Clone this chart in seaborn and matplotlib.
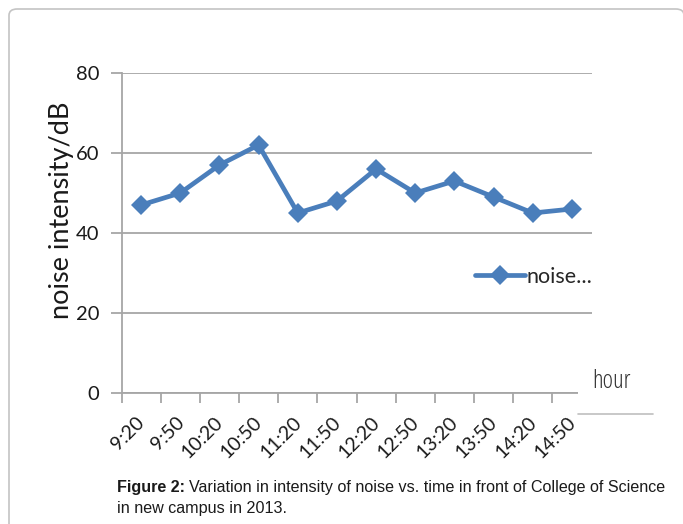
import matplotlib
matplotlib.use("Agg")
import matplotlib.pyplot as plt
import seaborn as sns
import pandas as pd
from matplotlib.patches import FancyBboxPatch, Rectangle
from matplotlib.lines import Line2D

times = ["9:20", "9:50", "10:20", "10:50", "11:20", "11:50",
         "12:20", "12:50", "13:20", "13:50", "14:20", "14:50"]
noise = [47, 50, 57, 62, 45, 48, 56, 50, 53, 49, 45, 46]
y_ticks = [0, 20, 40, 60, 80]
series_name = "noise..."
y_label = "noise intensity/dB"
x_label = "hour"

sns.set_style("white")
plt.rcParams["font.family"] = ["Lato", "DejaVu Sans"]

W, H = 683, 524
fig = plt.figure(figsize=(W / 100, H / 100), dpi=100)

def fx(px):
    return px / W

def fy(py):
    return 1 - py / H

# outer rounded frame
frame = FancyBboxPatch((fx(9), fy(560)), fx(684) - fx(9), fy(9) - fy(560),
                       boxstyle="round,pad=0,rounding_size=0.012",
                       transform=fig.transFigure, fill=False,
                       edgecolor="#c4c4c4", linewidth=1.2, zorder=0)
fig.patches.append(frame)

ax = fig.add_axes([fx(121.5), fy(393), fx(591.5) - fx(121.5), fy(73) - fy(393)])

df = pd.DataFrame({"time": times, "noise": noise})
color = "#4a7ebb"
sns.lineplot(data=df, x="time", y="noise", ax=ax, color=color, linewidth=3.4,
             marker="D", markersize=10.5, markeredgewidth=0, sort=False,
             label=series_name, legend=False)

ax.set_xlim(-0.5, len(times) - 0.5)
ax.set_ylim(0, 80)
ax.set_yticks(y_ticks)
ax.set_yticklabels([str(v) for v in y_ticks], fontsize=14.5, color="#1a1a1a")
ax.yaxis.grid(True, color="#a6a6a6", linewidth=1.3)
ax.set_axisbelow(True)

for s in ["top", "right"]:
    ax.spines[s].set_visible(False)
ax.spines["left"].set_color("#a6a6a6")
ax.spines["left"].set_linewidth(1.3)
ax.spines["bottom"].set_color("#a6a6a6")
ax.spines["bottom"].set_linewidth(1.3)

# ticks: marks at category boundaries, labels slightly left of the category centre
label_shift = 0.13
ax.set_xticks([i - 0.5 for i in range(len(times))], minor=False)
ax.set_xticklabels([])
ax.set_xticks([i - label_shift for i in range(len(times))], minor=True)
ax.set_xticklabels(times, minor=True, rotation=45, ha="right",
                   rotation_mode="anchor", fontsize=14, color="#1a1a1a")
ax.tick_params(axis="x", which="major", direction="out", length=7,
               width=1.3, color="#a6a6a6", bottom=True)
ax.tick_params(axis="x", which="minor", length=0, pad=15)
ax.tick_params(axis="y", direction="out", length=8, width=1.3,
               color="#a6a6a6", left=True, pad=8)
ax.set_xlabel("")
ax.set_ylabel("")

# y label (sits close to the tick labels, as in the reference)
fig.text(fx(62), fy(210), y_label, rotation=90, ha="center", va="center",
         fontsize=19.5, color="#1a1a1a")

# legend (manual position)
leg_handle = Line2D([], [], color=color, linewidth=3.4, marker="D",
                    markersize=10.5, markeredgewidth=0)
fig.legend([leg_handle], [series_name], loc="center left",
           bbox_to_anchor=(fx(475), fy(277)), frameon=False,
           fontsize=15.5, handlelength=2.3, handletextpad=0.1,
           borderpad=0, borderaxespad=0)

# "hour" box covering the axes end
box = Rectangle((fx(578), fy(414)), fx(653) - fx(578), fy(358) - fy(414),
                transform=fig.transFigure, facecolor="white",
                edgecolor="none", zorder=5)
fig.patches.append(box)
fig.add_artist(Line2D([fx(578), fx(653)], [fy(414), fy(414)],
                      transform=fig.transFigure, color="#bfbfbf",
                      linewidth=1.2, zorder=6))
fig.text(fx(592), fy(381), x_label, ha="left", va="center", fontsize=18,
         color="#333333", zorder=7, family=["Open Sans", "DejaVu Sans"],
         fontstretch="condensed")

# caption
cap_font = ["Liberation Sans", "DejaVu Sans"]
cap_size = 11.6
t1 = fig.text(fx(117), fy(492), "Figure 2:", ha="left", va="baseline",
              fontsize=cap_size, fontweight="bold", family=cap_font, color="#1a1a1a")
fig.canvas.draw()
bb = t1.get_window_extent()
fig.text((bb.x1 + 4) / W, fy(492),
         "Variation in intensity of noise vs. time in front of College of Science",
         ha="left", va="baseline", fontsize=cap_size, family=cap_font, color="#1a1a1a")
fig.text(fx(117), fy(513), "in new campus in 2013.", ha="left", va="baseline",
         fontsize=cap_size, family=cap_font, color="#1a1a1a")

fig.savefig("out.png", dpi=100)
